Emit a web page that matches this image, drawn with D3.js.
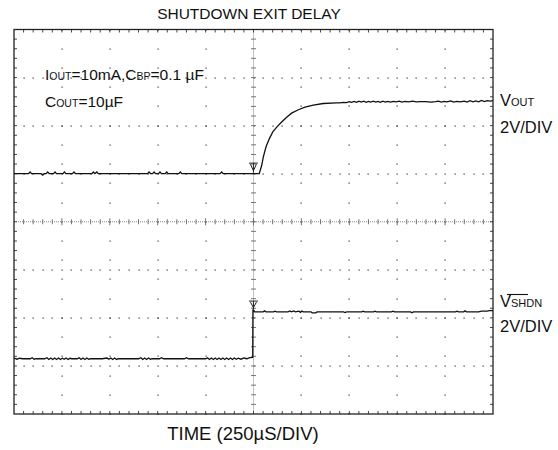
<!DOCTYPE html>
<html><head><meta charset="utf-8">
<script src="https://cdn.jsdelivr.net/npm/d3@7"></script>
<style>
body{margin:0;background:#fff}
text{font-family:"Liberation Sans",Arial,Helvetica,sans-serif;fill:#111}
</style>
</head><body>
<svg id="chart" width="558" height="450"></svg>
<script>
// ---- data ----
const timeDomain = [0, 2500];          // µs, 250 µs/div, 10 div
const divDomain = [-4, 4];             // vertical divisions
const voltsPerDiv = 2;
const vOutOffsetDiv = 1.0;             // ground level of VOUT trace (div)
const vShdnOffsetDiv = -2.85;          // ground level of VSHDN trace (div)
const triggerTime = 1247;

// VOUT trace: [time µs, volts]
const vOutTrace = [
 [0,0],[76,0],[84,0.07],[92,0],[142,0],[150,-0.06],[158,0],[168,0],[176,0.07],[184,0],
 [206,0],[214,0.07],[222,0],[255,0],[263,0.07],[271,0],[305,0],[313,0.07],[321,0],
 [406,0],[414,0.07],[422,0],[432,0.07],[440,0],[697,0],[705,0.07],[713,0],[723,0],
 [731,0.07],[739,0],[754,0],[762,0.07],[770,0],[789,0],[797,0.07],[805,0],[860,0],
 [868,0.07],[876,0],[1076,0],[1084,0.07],[1092,0],[1280,0],
 [1293,0.35],[1301,0.69],[1315,1.11],[1333,1.46],[1350,1.73],[1371,1.94],[1397,2.15],
 [1423,2.35],[1449,2.52],[1484,2.66],[1519,2.77],[1562,2.85],[1614,2.92],[1684,2.95],
 [1700,2.95],[1720,2.97],[1735,2.96],[1750,3.0],[1762,2.97],[1775,3.01],[1788,2.97],
 [1800,3.02],[1812,2.98],[1825,3.02],[1838,2.97],[1850,3.01],[1862,2.98],[1875,3.02],
 [1888,2.98],[1900,3.01],[1912,2.97],[1925,3.02],[1938,2.98],[1950,3.01],[1965,2.98],
 [1980,3.01],[1995,2.99],[2010,3.02],[2025,2.98],[2040,3.01],[2060,2.99],[2080,3.02],
 [2100,2.99],[2120,3.0],[2150,3.0],[2175,2.98],[2200,3.0],[2215,3.02],[2230,2.98],
 [2245,3.01],[2260,2.99],[2280,3.03],[2295,2.98],[2310,3.01],[2330,2.99],[2350,3.02],
 [2365,2.98],[2380,3.04],[2395,2.99],[2410,3.03],[2425,2.99],[2440,3.05],[2455,3.0],
 [2470,3.04],[2485,3.02],[2500,3.04]
];

// VSHDN trace: [time µs, volts]
const vShdnTrace = [
 [0,0.03],[15,-0.02],[30,0.02],[45,0],[85,0],[95,0.04],[105,-0.02],[115,0],[160,0],
 [172,0.04],[182,-0.03],[192,0.03],[202,-0.03],[212,0.03],[222,-0.03],[232,0.03],
 [242,-0.03],[252,0.02],[262,-0.02],[272,0.03],[282,-0.03],[292,0.02],[302,0],[330,0],
 [340,0.04],[350,-0.03],[360,0.03],[370,-0.03],[380,0.03],[390,-0.02],[400,0],[460,0],
 [485,0.03],[495,-0.02],[505,0.03],[515,-0.03],[525,0.03],[535,-0.03],[545,0],[650,0],
 [662,0.04],[672,-0.03],[682,0.03],[692,-0.03],[702,0.03],[712,-0.02],[722,0],[760,0],
 [770,0.04],[780,0],[890,0],[900,0.04],[910,0],[1000,0],[1010,0.04],[1020,-0.03],
 [1030,0.03],[1040,-0.03],[1050,0.03],[1060,-0.03],[1070,0.03],[1080,-0.03],[1090,0.03],
 [1100,-0.03],[1110,0.03],[1120,-0.03],[1130,0.03],[1140,-0.03],[1150,0.03],[1160,-0.02],
 [1170,0.02],[1185,-0.02],[1200,0.03],[1215,0],[1230,0.05],[1246,0.06],
 [1247,2.02],[1252,2.01],[1256,1.95],[1300,1.95],[1308,1.99],[1315,1.95],[1355,1.95],
 [1362,1.98],[1370,1.95],[1430,1.95],[1440,1.99],[1448,1.95],[1460,1.99],[1468,1.95],
 [1488,1.98],[1495,1.93],[1502,1.98],[1510,1.95],[1550,1.95],[1556,1.91],[1575,1.91],
 [1582,1.95],[1720,1.95],[1728,1.92],[1736,1.95],[1815,1.95],[1822,1.98],[1830,1.95],
 [1877,1.95],[1884,1.98],[1891,1.95],[1970,1.95],[1978,1.98],[1986,1.95],[2070,1.95],
 [2077,1.91],[2085,1.95],[2305,1.95],[2312,1.98],[2320,1.95],[2347,1.95],[2354,1.99],
 [2362,1.95],[2425,1.95],[2440,1.98],[2470,1.98],[2480,2.0],[2500,2.0]
];

const titleText = "SHUTDOWN EXIT DELAY";
const xAxisText = "TIME (250µS/DIV)";

// ---- drawing ----
const svg = d3.select("#chart");
const plot = {left:14, right:493, top:29.5, bottom:414};
const x = d3.scaleLinear().domain(timeDomain).range([plot.left, plot.right]);
const y = d3.scaleLinear().domain(divDomain).range([plot.bottom, plot.top]);

const minorT = 50, majorT = 250, minorD = 0.2;
const g = svg.append("g");

// grid dots: horizontal rows
const rowDivs = d3.range(-3, 4).filter(d => d !== 0);
const colTimes = d3.range(1, 10).map(k => k * majorT).filter(t => t !== 1250);
const xMinor = d3.range(minorT, 2500, minorT);
const yMinor = d3.range(-4 + minorD, 4 - 0.001, minorD).map(d => Math.round(d * 10) / 10);

rowDivs.forEach(dv => {
  g.selectAll(null).data(xMinor).enter().append("rect")
    .attr("x", t => Math.round(x(t)) - 0.5).attr("y", Math.round(y(dv)) - 0.5)
    .attr("width", 1.2).attr("height", 1.2).attr("fill", "#333");
});
const colDots = d3.range(0, 21).map(j => 4 - 0.4 * j);
colTimes.forEach(t => {
  g.selectAll(null).data(colDots).enter().append("rect")
    .attr("x", Math.round(x(t)) - 0.5).attr("y", dv => Math.round(y(dv)) - 0.5)
    .attr("width", 1.2).attr("height", 1.2).attr("fill", "#333");
});

// center axes
g.append("line").attr("x1", x(0)).attr("x2", x(2500)).attr("y1", y(0)).attr("y2", y(0))
  .attr("stroke", "#888").attr("stroke-width", 1).attr("stroke-dasharray", "1,1");
g.append("line").attr("x1", x(1250)).attr("x2", x(1250)).attr("y1", y(4)).attr("y2", y(-4))
  .attr("stroke", "#888").attr("stroke-width", 1).attr("stroke-dasharray", "1,1");
g.selectAll(null).data(xMinor).enter().append("line")
  .attr("x1", t => x(t)).attr("x2", t => x(t))
  .attr("y1", t => y(0) - (t % majorT === 0 ? 3.5 : 2.5))
  .attr("y2", t => y(0) + (t % majorT === 0 ? 3.5 : 2.5))
  .attr("stroke", "#666").attr("stroke-width", 0.9);
g.selectAll(null).data(yMinor).enter().append("line")
  .attr("y1", d => y(d)).attr("y2", d => y(d))
  .attr("x1", x(1250) - 2.5).attr("x2", x(1250) + 2.5)
  .attr("stroke", "#666").attr("stroke-width", 0.9);

// border ticks
g.selectAll(null).data(xMinor).enter().append("line")
  .attr("x1", t => x(t)).attr("x2", t => x(t)).attr("y1", plot.top).attr("y2", plot.top + 3)
  .attr("stroke", "#333").attr("stroke-width", 0.9);
g.selectAll(null).data(xMinor).enter().append("line")
  .attr("x1", t => x(t)).attr("x2", t => x(t)).attr("y1", plot.bottom).attr("y2", plot.bottom - 3)
  .attr("stroke", "#333").attr("stroke-width", 0.9);
g.selectAll(null).data(yMinor).enter().append("line")
  .attr("y1", d => y(d)).attr("y2", d => y(d)).attr("x1", plot.left).attr("x2", plot.left + 3)
  .attr("stroke", "#333").attr("stroke-width", 0.9);
g.selectAll(null).data(yMinor).enter().append("line")
  .attr("y1", d => y(d)).attr("y2", d => y(d)).attr("x1", plot.right).attr("x2", plot.right - 3)
  .attr("stroke", "#333").attr("stroke-width", 0.9);

// border
g.append("rect").attr("x", plot.left).attr("y", plot.top)
  .attr("width", plot.right - plot.left).attr("height", plot.bottom - plot.top)
  .attr("fill", "none").attr("stroke", "#222").attr("stroke-width", 1.3);

// traces
const lineFor = off => d3.line().x(d => x(d[0])).y(d => y(off + d[1] / voltsPerDiv));
g.append("path").datum(vOutTrace).attr("d", lineFor(vOutOffsetDiv))
  .attr("fill", "none").attr("stroke", "#111").attr("stroke-width", 1.3);
g.append("path").datum(vShdnTrace).attr("d", lineFor(vShdnOffsetDiv))
  .attr("fill", "none").attr("stroke", "#111").attr("stroke-width", 1.3);

// trigger / reference markers
function marker(t, yTop, yBot) {
  const cx = x(t) + 0.5;
  g.append("path").attr("d", `M${cx - 4.5},${yTop}H${cx + 4.5}M${cx},${yTop}V${yBot}M${cx-3},${yTop+1}L${cx},${yBot-2}L${cx+3},${yTop+1}`)
    .attr("fill", "none").attr("stroke", "#222").attr("stroke-width", 1);
}
marker(triggerTime, y(vOutOffsetDiv + 0.22), y(vOutOffsetDiv + 0.02));
marker(triggerTime, y(vShdnOffsetDiv + 1.2), y(vShdnOffsetDiv + 1.02));

// texts
svg.append("text").attr("x", 249).attr("y", 19).attr("text-anchor", "middle")
  .attr("font-size", 15.5).text(titleText);
svg.append("text").attr("x", 243).attr("y", 440).attr("text-anchor", "middle")
  .attr("font-size", 18.5).text(xAxisText);

function subText(xp, yp, parts, big, small) {
  const t = svg.append("text").attr("x", xp).attr("y", yp).attr("font-size", big);
  parts.forEach(p => t.append("tspan").attr("font-size", p[1] ? small : big).text(p[0]));
  return t;
}
subText(45, 80, [["I",0],["OUT",1],["=10mA,C",0],["BP",1],["=0.1 µF",0]], 15.5, 10.5);
subText(45, 106.5, [["C",0],["OUT",1],["=10µF",0]], 15.5, 10.5);
subText(500, 106, [["V",0],["OUT",1]], 16.5, 11);
svg.append("text").attr("x", 500).attr("y", 133).attr("font-size", 16.5).text("2V/DIV");
subText(500, 307, [["V",0],["SHDN",1]], 16.5, 11);
svg.append("line").attr("x1", 507).attr("x2", 528).attr("y1", 294.5).attr("y2", 294.5)
  .attr("stroke", "#111").attr("stroke-width", 1.1);
svg.append("text").attr("x", 500).attr("y", 332).attr("font-size", 16.5).text("2V/DIV");
</script>
</body></html>
